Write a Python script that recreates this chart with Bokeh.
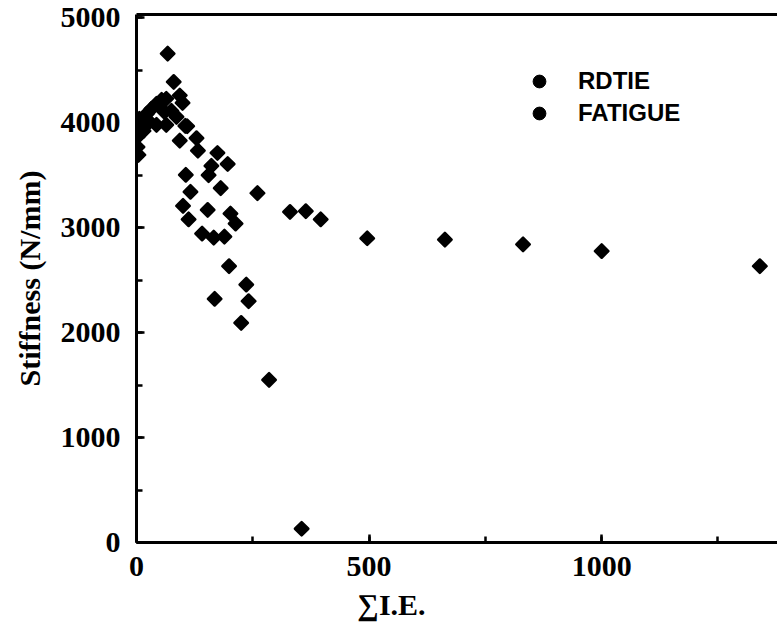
import math
from bokeh.plotting import figure
from bokeh.models import (Range1d, SingleIntervalTicker, FixedTicker, LinearAxis,
                          Legend, LegendItem, Title, ColumnDataSource)
from bokeh.embed import file_html
from bokeh.resources import INLINE

# ---- data ----
rdtie_x = [2, 2, 2, 6, 15, 22, 32, 43, 54, 60, 28, 43, 64, 75, 86, 99, 105, 4, 64,
           67, 80, 93, 109, 129, 93, 132, 174, 196, 161, 155, 106, 181, 116, 100,
           153, 202, 112, 213, 141, 166, 189, 199, 236, 168, 241, 225, 285, 260]
rdtie_y = [3962, 3866, 3770, 4038, 3923, 4086, 4134, 4182, 4220, 4105, 4010, 3981,
           3981, 4115, 4057, 4191, 3971, 3694, 4230,
           4660, 4390, 4261, 3968, 3854, 3831, 3735, 3713, 3608, 3591, 3502, 3505,
           3378, 3343, 3209, 3170, 3136, 3081, 3040, 2945, 2906, 2916, 2634, 2459,
           2323, 2300, 2093, 1550, 3330]
fatigue_x = [330, 364, 396, 355, 496, 663, 831, 1000, 1340]
fatigue_y = [3151, 3158, 3081, 131, 2900, 2887, 2842, 2778, 2634]

x_label = "\u2211I.E."
y_label = "Stiffness (N/mm)"
series_names = ["RDTIE", "FATIGUE"]

SERIF = "Liberation Serif"
SANS = "Liberation Sans"

p = figure(width=777, height=630, output_backend="svg", toolbar_location=None,
           x_range=Range1d(0, 1378), y_range=Range1d(0, 5033),
           min_border_left=136, min_border_right=0, min_border_top=14,
           min_border_bottom=88)
p.outline_line_color = None
p.grid.visible = False
p.background_fill_color = "white"
p.border_fill_color = "white"

s1 = ColumnDataSource(dict(x=rdtie_x, y=rdtie_y))
s2 = ColumnDataSource(dict(x=fatigue_x, y=fatigue_y))
mk = dict(marker="square", size=9.5, angle=math.pi / 4, fill_color="black",
          line_color="black", line_width=2.5, line_join="round")
r1 = p.scatter("x", "y", source=s1, **mk)
r2 = p.scatter("x", "y", source=s2, **mk)

# legend-only round key markers (a single NaN point, nothing drawn in the frame)
nan = float("nan")
lg = dict(marker="circle", fill_color="black", line_color="black")
l1 = p.scatter(x=[nan], y=[nan], **lg)
l2 = p.scatter(x=[nan], y=[nan], **lg)

for ax in (p.xaxis[0], p.yaxis[0]):
    ax.axis_line_width = 3
    ax.axis_line_color = "black"
    ax.major_tick_in = 8
    ax.major_tick_out = 0
    ax.minor_tick_in = 6
    ax.minor_tick_out = 0
    ax.major_tick_line_width = 2.5
    ax.minor_tick_line_width = 2.5
    ax.major_label_text_font = SERIF
    ax.major_label_text_font_size = "30px"
    ax.major_label_text_font_style = "bold"
    ax.major_label_text_color = "black"

p.xaxis[0].ticker = SingleIntervalTicker(interval=500, num_minor_ticks=2)
p.yaxis[0].ticker = SingleIntervalTicker(interval=1000, num_minor_ticks=2)
p.xaxis[0].major_label_standoff = 14
p.yaxis[0].major_label_standoff = 16

p.yaxis[0].axis_label = y_label
p.yaxis[0].axis_label_text_font = SERIF
p.yaxis[0].axis_label_text_font_size = "30px"
p.yaxis[0].axis_label_text_font_style = "bold"
p.yaxis[0].axis_label_text_color = "black"
p.yaxis[0].axis_label_standoff = 12

top = LinearAxis(ticker=FixedTicker(ticks=[]), axis_line_width=3, axis_line_color="black",
                 major_tick_line_color=None, minor_tick_line_color=None,
                 major_label_text_font_size="0px")
p.add_layout(top, "above")

xt = Title(text=x_label, align="left", offset=221, text_font=SERIF,
           text_font_size="30px", text_font_style="bold", text_color="black",
           standoff=15)
p.add_layout(xt, "below")

legend = Legend(items=[LegendItem(label=series_names[0], renderers=[l1]),
                       LegendItem(label=series_names[1], renderers=[l2])],
                location=(387, 413), glyph_width=32, glyph_height=32, spacing=0,
                label_standoff=23, label_text_font=SANS, label_text_font_size="24px",
                label_text_font_style="bold", label_text_color="black",
                border_line_color=None, background_fill_alpha=0, padding=10, margin=0)
p.add_layout(legend, "center")

open("out.html", "w").write(file_html(p, INLINE))
